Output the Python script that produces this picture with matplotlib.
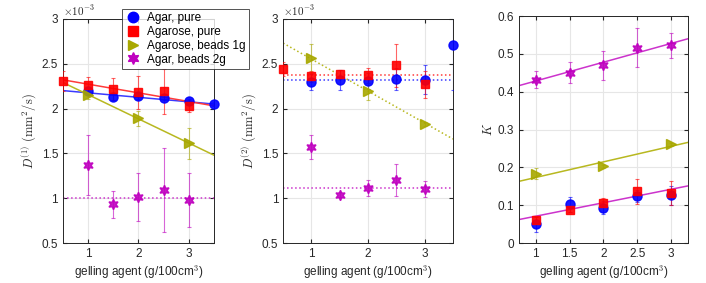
import matplotlib
matplotlib.use('Agg')
import matplotlib.pyplot as plt
from matplotlib.lines import Line2D

plt.rcParams['font.family'] = ['Liberation Sans', 'DejaVu Sans']
plt.rcParams['mathtext.fontset'] = 'cm'

# panel 1: D(1) in units of 1e-3 mm^2/s
d1_agar_x = [1, 1.5, 2, 2.5, 3, 3.5]
d1_agar_y = [2.19, 2.13, 2.14, 2.12, 2.08, 2.05]
d1_agar_e = [0.03, 0.03, 0.03, 0.03, 0.03, 0.02]
d1_agarose_x = [0.5, 1, 1.5, 2, 2.5, 3]
d1_agarose_y = [2.31, 2.26, 2.22, 2.18, 2.19, 2.03]
d1_agarose_e = [0.11, 0.09, 0.12, 0.18, 0.25, 0.07]
d1_beads1_x = [1, 2, 3]
d1_beads1_y = [2.15, 1.89, 1.61]
d1_beads1_e = [0.04, 0.08, 0.17]
d1_beads2_x = [1, 1.5, 2, 2.5, 3]
d1_beads2_y = [1.37, 0.93, 1.01, 1.09, 0.98]
d1_beads2_e = [0.34, 0.15, 0.27, 0.47, 0.30]
d1_fit_x = [0.5, 3.5]
d1_fit_agar = [2.20, 2.05]
d1_fit_agarose = [2.32, 2.03]
d1_fit_beads1 = [2.29, 1.48]
d1_fit_beads2 = [1.0, 1.0]

# panel 2: D(2) in units of 1e-3 mm^2/s
d2_agar_x = [1, 1.5, 2, 2.5, 3, 3.5]
d2_agar_y = [2.30, 2.32, 2.31, 2.33, 2.32, 2.71]
d2_agar_e = [0.09, 0.11, 0.09, 0.12, 0.16, 0.50]
d2_agarose_x = [0.5, 1, 1.5, 2, 2.5, 3]
d2_agarose_y = [2.44, 2.36, 2.38, 2.37, 2.48, 2.27]
d2_agarose_e = [0.08, 0.06, 0.05, 0.08, 0.24, 0.15]
d2_beads1_x = [1, 2, 3]
d2_beads1_y = [2.56, 2.19, 1.83]
d2_beads1_e = [0.16, 0.10, 0.02]
d2_beads2_x = [1, 1.5, 2, 2.5, 3]
d2_beads2_y = [1.57, 1.04, 1.11, 1.20, 1.10]
d2_beads2_e = [0.13, 0.03, 0.09, 0.18, 0.09]
d2_fit_x = [0.5, 3.5]
d2_fit_agar = [2.32, 2.32]
d2_fit_agarose = [2.37, 2.37]
d2_fit_beads1 = [2.73, 1.66]
d2_fit_beads2 = [1.11, 1.11]

# panel 3: K
k_x = [1, 1.5, 2, 2.5, 3]
k_agar_y = [0.049, 0.102, 0.093, 0.124, 0.126]
k_agar_e = [0.02, 0.02, 0.017, 0.016, 0.025]
k_agarose_y = [0.060, 0.088, 0.107, 0.137, 0.132]
k_agarose_e = [0.008, 0.006, 0.013, 0.033, 0.031]
k_beads1_x = [1, 2, 3]
k_beads1_y = [0.183, 0.203, 0.261]
k_beads1_e = [0.015, 0.004, 0.004]
k_beads2_y = [0.432, 0.450, 0.470, 0.516, 0.523]
k_beads2_e = [0.022, 0.028, 0.038, 0.052, 0.033]
k_fit_x = [0.75, 3.25]
k_fit_pure = [0.062, 0.151]
k_fit_beads1 = [0.163, 0.266]
k_fit_beads2 = [0.416, 0.540]

labels = ['Agar, pure', 'Agarose, pure', 'Agarose, beads 1g', 'Agar, beads 2g']
colors = ['#0000ff', '#ff0000', '#a8a800', '#bf00bf']
markers = ['o', 's', '>', (6, 1, 0)]
msizes = [6.5, 5.5, 6.5, 7.5]
line_colors = ['#3a3aff', '#ff3a3a', '#b8b820', '#cc33cc']


def pts(ax, x, y, e, i):
    ax.errorbar(x, y, yerr=e, fmt='none', ecolor=colors[i], elinewidth=0.8,
                capsize=1.5, capthick=0.8, alpha=0.6, zorder=3)
    ax.plot(x, y, ls='none', marker=markers[i], color=colors[i], ms=msizes[i],
            mec=colors[i], alpha=0.9, zorder=4, clip_on=False)


def style(ax):
    ax.grid(True, color='#e6e6e6', lw=0.8)
    ax.set_axisbelow(True)
    ax.tick_params(direction='in', labelsize=8.5, length=3, top=True, right=True,
                   colors='#262626')
    for s in ax.spines.values():
        s.set_color('#262626')
        s.set_linewidth(0.7)
    ax.set_xlabel('gelling agent (g/100cm$^3$)', fontsize=8.5, color='#262626', labelpad=2)


fig = plt.figure(figsize=(7.06, 2.83), dpi=100)
ax1 = fig.add_axes([0.0892, 0.1413, 0.2138, 0.792])
ax2 = fig.add_axes([0.401, 0.1413, 0.2406, 0.792])
ax3 = fig.add_axes([0.735, 0.1413, 0.2395, 0.802])

# panel 1
ax1.plot(d1_fit_x, d1_fit_agar, color=line_colors[0], lw=1.1, zorder=2)
ax1.plot(d1_fit_x, d1_fit_agarose, color=line_colors[1], lw=1.1, zorder=2)
ax1.plot(d1_fit_x, d1_fit_beads1, color=line_colors[2], lw=1.1, zorder=2)
ax1.plot(d1_fit_x, d1_fit_beads2, color=line_colors[3], lw=1.1, ls=':', zorder=2)
pts(ax1, d1_agar_x, d1_agar_y, d1_agar_e, 0)
pts(ax1, d1_agarose_x, d1_agarose_y, d1_agarose_e, 1)
pts(ax1, d1_beads1_x, d1_beads1_y, d1_beads1_e, 2)
pts(ax1, d1_beads2_x, d1_beads2_y, d1_beads2_e, 3)
ax1.set_xlim(0.5, 3.5)
ax1.set_ylim(0.5, 3)
ax1.set_xticks([1, 2, 3])
ax1.set_yticks([0.5, 1, 1.5, 2, 2.5, 3])
ax1.set_yticklabels(['0.5', '1', '1.5', '2', '2.5', '3'])
ax1.set_ylabel(r'$D^{(1)}\ (\mathrm{mm}^2/\mathrm{s})$', fontsize=9, color='#262626', labelpad=2)
style(ax1)
ax1.text(0.0, 1.005, r'$\times10^{-3}$', transform=ax1.transAxes, fontsize=8,
         color='#262626', va='bottom', ha='left', family='DejaVu Sans')

# panel 2
ax2.plot(d2_fit_x, d2_fit_agar, color=line_colors[0], lw=1.1, ls=':', zorder=2)
ax2.plot(d2_fit_x, d2_fit_agarose, color=line_colors[1], lw=1.1, ls=':', zorder=2)
ax2.plot(d2_fit_x, d2_fit_beads1, color=line_colors[2], lw=1.1, ls=':', zorder=2)
ax2.plot(d2_fit_x, d2_fit_beads2, color=line_colors[3], lw=1.1, ls=':', zorder=2)
pts(ax2, d2_agar_x, d2_agar_y, d2_agar_e, 0)
pts(ax2, d2_agarose_x, d2_agarose_y, d2_agarose_e, 1)
pts(ax2, d2_beads1_x, d2_beads1_y, d2_beads1_e, 2)
pts(ax2, d2_beads2_x, d2_beads2_y, d2_beads2_e, 3)
ax2.set_xlim(0.5, 3.5)
ax2.set_ylim(0.5, 3)
ax2.set_xticks([1, 2, 3])
ax2.set_yticks([0.5, 1, 1.5, 2, 2.5, 3])
ax2.set_yticklabels(['0.5', '1', '1.5', '2', '2.5', '3'])
ax2.set_ylabel(r'$D^{(2)}\ (\mathrm{mm}^2/\mathrm{s})$', fontsize=9, color='#262626', labelpad=2)
style(ax2)
ax2.text(0.0, 1.005, r'$\times10^{-3}$', transform=ax2.transAxes, fontsize=8,
         color='#262626', va='bottom', ha='left', family='DejaVu Sans')

# panel 3
ax3.plot(k_fit_x, k_fit_pure, color=line_colors[3], lw=1.1, zorder=2)
ax3.plot(k_fit_x, k_fit_beads1, color=line_colors[2], lw=1.1, zorder=2)
ax3.plot(k_fit_x, k_fit_beads2, color=line_colors[3], lw=1.1, zorder=2)
pts(ax3, k_x, k_agar_y, k_agar_e, 0)
pts(ax3, k_x, k_agarose_y, k_agarose_e, 1)
pts(ax3, k_beads1_x, k_beads1_y, k_beads1_e, 2)
pts(ax3, k_x, k_beads2_y, k_beads2_e, 3)
ax3.set_xlim(0.75, 3.25)
ax3.set_ylim(0, 0.6)
ax3.set_xticks([1, 1.5, 2, 2.5, 3])
ax3.set_xticklabels(['1', '1.5', '2', '2.5', '3'])
ax3.set_yticks([0, 0.1, 0.2, 0.3, 0.4, 0.5, 0.6])
ax3.set_yticklabels(['0', '0.1', '0.2', '0.3', '0.4', '0.5', '0.6'])
ax3.set_ylabel('$K$', fontsize=9, color='#262626', labelpad=2)
style(ax3)

handles = [Line2D([], [], ls='none', marker=markers[i], color=colors[i], ms=msizes[i] + 1)
           for i in range(4)]
leg = fig.legend(handles, labels, loc='upper left', bbox_to_anchor=(0.165, 0.99),
                 fontsize=8.5, frameon=True, fancybox=False, handlelength=1.2,
                 handletextpad=0.6, borderpad=0.3, labelspacing=0.15)
leg.get_frame().set_edgecolor('#262626')
leg.get_frame().set_linewidth(0.7)
leg.set_zorder(10)

fig.savefig('out.png', dpi=100)
